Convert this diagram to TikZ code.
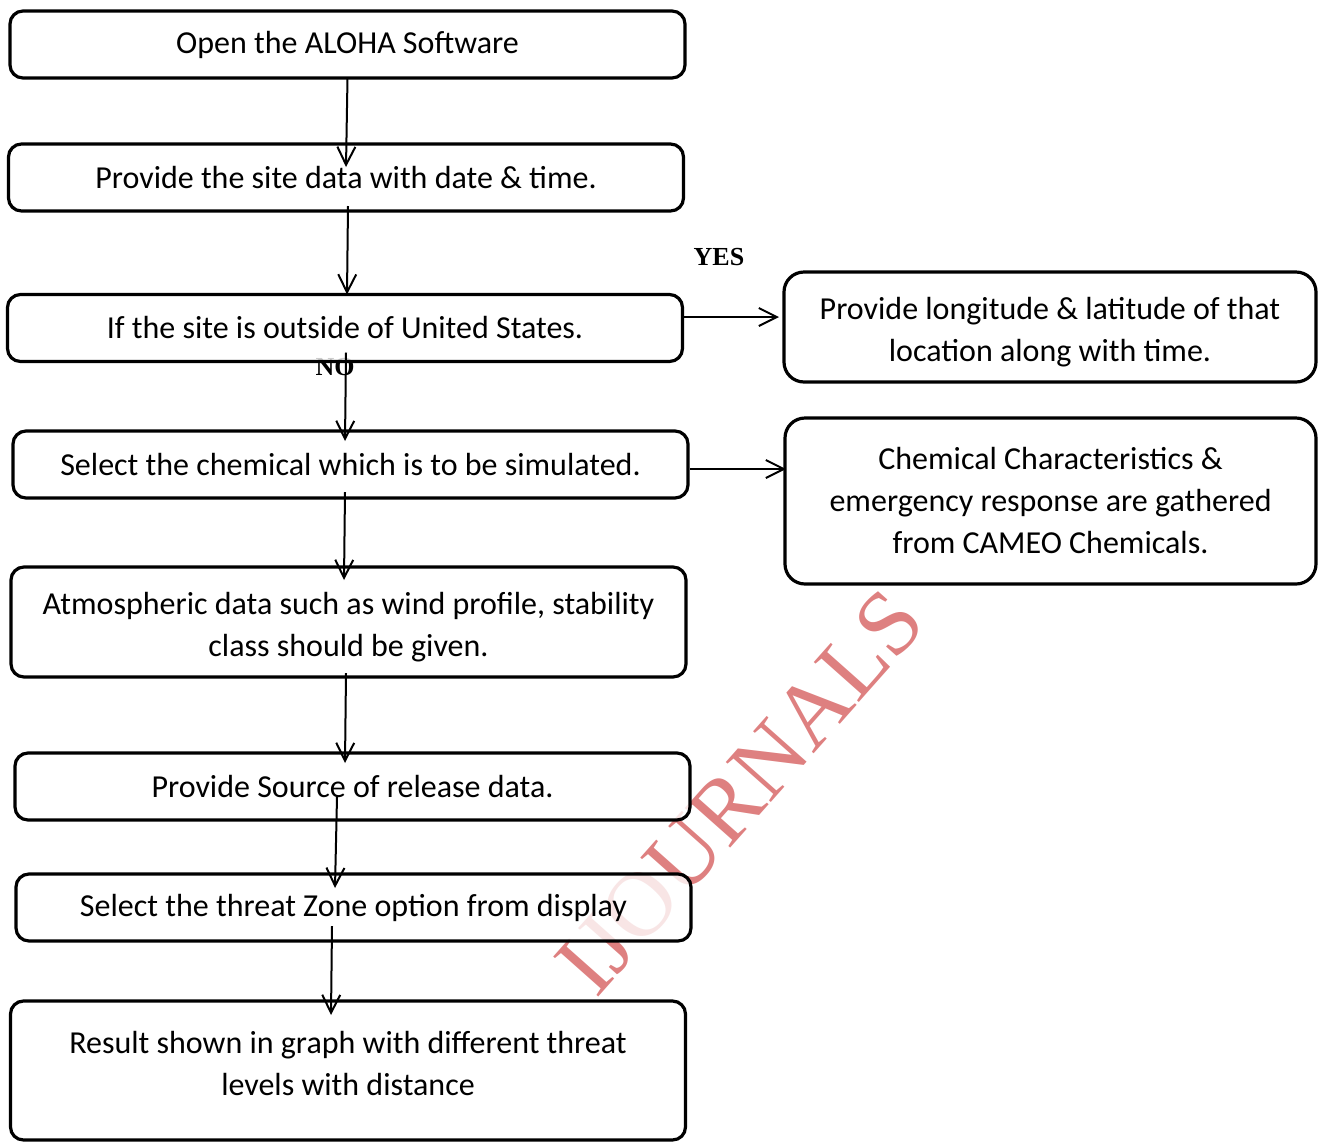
\documentclass[tikz,border=0pt]{standalone}
\usepackage{fontspec}
\setmainfont{Carlito}
\newfontfamily\markfont{Liberation Serif}
\usetikzlibrary{arrows.meta, calc}
\definecolor{markred}{RGB}{222,128,128}
\tikzset{
  stepbox/.style={draw, line width=1.6pt, rounded corners=6.5pt, fill=white,
    fill opacity=0.8, text opacity=1, minimum width=337.5pt, minimum height=33.5pt,
    inner sep=0pt, outer sep=0pt, align=center, font=\fontsize{16}{21}\selectfont},
  infobox/.style={stepbox, rounded corners=10pt, minimum width=266pt},
  boxtext/.style={align=center, font=\fontsize{16}{21}\selectfont},
  flow/.style={-{Straight Barb[length=9pt,width=9pt]}, line width=1pt},
  answer/.style={font=\markfont\bfseries\fontsize{13}{13}\selectfont},
}

\begin{document}
\begin{tikzpicture}[x=0.5pt, y=-0.5pt]
  \useasboundingbox (0,0) rectangle (1318,1142);

  % watermark behind everything
  \node[text=markred, rotate=48.4, font=\markfont\fontsize{46}{46}\selectfont] (mark) at (740,792) {IJOURNALS};
  \node[answer] (no) at (335,367) {NO};
  \node[answer] (yes) at (719,257) {YES};

  % main column
  \node[stepbox] (open) at (347.5,44.5) {Open the ALOHA Software};
  \node[stepbox] (site) at (346,177.5) {Provide the site data with date \& time.};
  \node[stepbox] (outside) at (345,328) {If the site is outside of United States.};
  \node[stepbox] (chem) at (350.5,464.5) {Select the chemical which is to be simulated.};
  \node[stepbox, minimum height=55pt,
    label={[name=atmotxt, yshift=-2.5pt, boxtext]center:Atmospheric data such as wind profile, stability\\class should be given.}]
    (atmo) at (348.5,622) {};
  \node[stepbox] (source) at (352.5,786.5) {Provide Source of release data.};
  \node[stepbox] (threat) at (353.5,907.5) {Select the threat Zone option from display};
  \node[stepbox, minimum height=69.5pt,
    label={[name=resulttxt, yshift=3.75pt, boxtext]center:Result shown in graph with different threat\\levels with distance}]
    (result) at (348,1070.5) {};

  % side boxes
  \node[infobox, minimum height=55pt,
    label={[name=lonlattxt, yshift=-2.5pt, boxtext]center:Provide longitude \& latitude of that\\location along with time.}]
    (lonlat) at (1050,327) {};
  \node[infobox, minimum width=265.5pt, minimum height=83pt] (cameo) at (1050.5,501) {Chemical Characteristics \&\\emergency response are gathered\\from CAMEO Chemicals.};

  % connectors
  \draw[flow] (open.south) -- ($(site.north)+(0,23)$);
  \draw[flow] ($(site.south)+(2,-5)$) -- ($(outside.north)+(2,0)$);
  \draw[flow] ($(outside.south)+(1,-9)$) -- ($(chem.north)+(-5.5,10)$);
  \draw[flow] ($(chem.south)+(-5.5,-6)$) -- ($(atmo.north)+(-4.5,13)$);
  \draw[flow] ($(atmo.south)+(-2.5,-4)$) -- ($(source.north)+(-7.5,10)$);
  \draw[flow] ($(source.south)+(-15.5,-23)$) -- ($(threat.north)+(-18.5,14)$);
  \draw[flow] ($(threat.south)+(-21.5,-15)$) -- ($(result.north)+(-17,14)$);
  \draw[flow] ($(outside.east)+(0,-11)$) -- ($(lonlat.west)+(-5,-10)$);
  \draw[flow] ($(chem.east)+(2,4.5)$) -- ($(cameo.west)+(1,-32)$);
\end{tikzpicture}
\end{document}
